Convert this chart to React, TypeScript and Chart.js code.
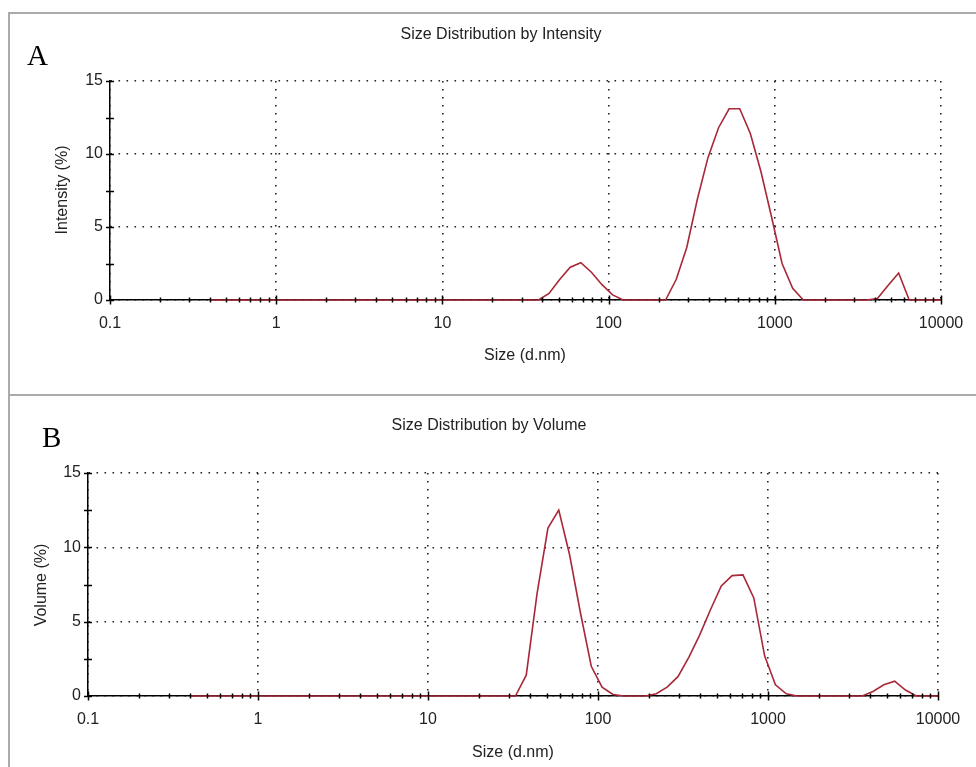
import React, { useEffect, useRef } from "react";
import { Chart, registerables } from "chart.js";

Chart.register(...registerables);

// Size bins (d.nm)
const sizes = [
  0.4, 0.4632, 0.5365, 0.6213, 0.7195, 0.8332, 0.9649, 1.117, 1.294, 1.499,
  1.736, 2.01, 2.328, 2.696, 3.122, 3.615, 4.187, 4.849, 5.615, 6.503,
  7.531, 8.721, 10.1, 11.7, 13.54, 15.69, 18.17, 21.04, 24.36, 28.21,
  32.67, 37.84, 43.82, 50.75, 58.77, 68.06, 78.82, 91.28, 105.7, 122.4,
  141.8, 164.2, 190.1, 220.2, 255.0, 295.3, 342.0, 396.1, 458.7, 531.2,
  615.1, 712.4, 825.0, 955.4, 1106, 1281, 1484, 1718, 1990, 2305,
  2669, 3091, 3580, 4145, 4801, 5560, 6439, 7456, 8635, 10000,
];

// Intensity (%)
const intensityValues = [
  0, 0, 0, 0, 0, 0, 0, 0, 0, 0,
  0, 0, 0, 0, 0, 0, 0, 0, 0, 0,
  0, 0, 0, 0, 0, 0, 0, 0, 0, 0,
  0, 0, 0.45, 1.4, 2.25, 2.55, 1.9, 1.05, 0.35, 0,
  0, 0, 0, 0, 1.4, 3.6, 6.9, 9.75, 11.8, 13.1,
  13.1, 11.4, 8.8, 5.7, 2.5, 0.8, 0, 0, 0, 0,
  0, 0, 0, 0.1, 1.0, 1.85, 0, 0, 0, 0,
];

// Volume (%)
const volumeValues = [
  0, 0, 0, 0, 0, 0, 0, 0, 0, 0,
  0, 0, 0, 0, 0, 0, 0, 0, 0, 0,
  0, 0, 0, 0, 0, 0, 0, 0, 0, 0,
  0, 1.4, 6.9, 11.3, 12.5, 9.5, 5.6, 2.0, 0.6, 0.1,
  0, 0, 0, 0.15, 0.6, 1.3, 2.6, 4.1, 5.8, 7.4,
  8.1, 8.15, 6.6, 2.7, 0.75, 0.15, 0, 0, 0, 0,
  0, 0, 0, 0.3, 0.75, 1.0, 0.4, 0, 0, 0,
];

const xTickDecades = [0.1, 1, 10, 100, 1000, 10000];
const xMinorMultipliers = [2, 3, 4, 5, 6, 7, 8, 9];
const yTickValues = [0, 5, 10, 15];
const yMinorTicks = [2.5, 7.5, 12.5];

const SANS = '"Liberation Sans", Arial, sans-serif';
const SERIF = '"Liberation Serif", "Times New Roman", serif';
const RED = "#a82838";
const TEXT = "#222";

type PanelProps = {
  top: number;
  width: number;
  height: number;
  area: { left: number; top: number; right: number; bottom: number };
  letter: string;
  letterX: number;
  letterY: number;
  title: string;
  titleX: number;
  titleY: number;
  xTitle: string;
  xTitleX: number;
  xTitleY: number;
  yTitle: string;
  yTitleX: number;
  yTitleY: number;
  values: number[];
};

function Panel(p: PanelProps) {
  const ref = useRef<HTMLCanvasElement | null>(null);

  useEffect(() => {
    const canvas = ref.current;
    if (!canvas) return;

    const overlay = {
      id: "overlay",
      afterDraw(chart: any) {
        const ctx = chart.ctx as CanvasRenderingContext2D;
        const xs = chart.scales.x;
        const ys = chart.scales.y;
        const { left, bottom } = chart.chartArea;
        ctx.save();
        ctx.strokeStyle = "#000";
        ctx.lineWidth = 1.5;
        ctx.beginPath();
        // x minor ticks
        for (let d = 0; d < xTickDecades.length - 1; d++) {
          for (const m of xMinorMultipliers) {
            const px = Math.round(xs.getPixelForValue(xTickDecades[d] * m)) + 0.5;
            ctx.moveTo(px, bottom - 2.5);
            ctx.lineTo(px, bottom + 2.5);
          }
        }
        // x major ticks
        for (const v of xTickDecades) {
          const px = Math.round(xs.getPixelForValue(v)) + 0.5;
          ctx.moveTo(px, bottom - 4.5);
          ctx.lineTo(px, bottom + 4.5);
        }
        // y ticks
        for (const v of [...yTickValues, ...yMinorTicks]) {
          const py = Math.round(ys.getPixelForValue(v)) + 0.5;
          ctx.moveTo(left - 4, py);
          ctx.lineTo(left + 4, py);
        }
        ctx.stroke();

        // texts
        ctx.fillStyle = TEXT;
        ctx.textBaseline = "alphabetic";
        ctx.font = `16px ${SANS}`;
        ctx.textAlign = "center";
        ctx.fillText(p.title, p.titleX, p.titleY);
        ctx.fillText(p.xTitle, p.xTitleX, p.xTitleY);
        ctx.save();
        ctx.translate(p.yTitleX, p.yTitleY);
        ctx.rotate(-Math.PI / 2);
        ctx.fillText(p.yTitle, 0, 0);
        ctx.restore();

        ctx.fillStyle = "#000";
        ctx.textAlign = "left";
        ctx.font = `29px ${SERIF}`;
        ctx.fillText(p.letter, p.letterX, p.letterY);
        ctx.restore();
      },
    };

    const gridCfg = { color: "#222", lineWidth: 1.6, drawTicks: false, tickLength: 0 };
    const borderCfg = { display: true, color: "#000", width: 1.5, dash: [1.6, 6.4] };

    const chart = new Chart(canvas, {
      type: "line",
      data: {
        datasets: [
          {
            data: sizes.map((s, i) => ({ x: s, y: p.values[i] })),
            borderColor: RED,
            borderWidth: 1.6,
            pointRadius: 0,
            tension: 0,
            fill: false,
            clip: false as any,
          },
        ],
      },
      options: {
        animation: false,
        responsive: false,
        maintainAspectRatio: false,
        devicePixelRatio: 1,
        events: [],
        layout: {
          padding: { left: 0, top: p.area.top, right: p.width - p.area.right, bottom: 0 },
        },
        plugins: {
          legend: { display: false },
          tooltip: { enabled: false },
          title: { display: false },
        },
        scales: {
          x: {
            type: "logarithmic",
            position: "bottom",
            min: 0.1,
            max: 10000,
            afterBuildTicks: (s: any) => {
              s.ticks = xTickDecades.map((v) => ({ value: v }));
            },
            afterFit: (s: any) => {
              s.height = p.height - p.area.bottom;
              s.paddingLeft = 0;
              s.paddingRight = 0;
            },
            ticks: {
              callback: (v: any) => String(v),
              font: { size: 16, family: SANS },
              color: TEXT,
              padding: 14,
              maxRotation: 0,
              autoSkip: false,
            },
            grid: gridCfg,
            border: borderCfg,
          },
          y: {
            type: "linear",
            min: 0,
            max: 15,
            afterBuildTicks: (s: any) => {
              s.ticks = yTickValues.map((v) => ({ value: v }));
            },
            afterFit: (s: any) => {
              s.width = p.area.left;
              s.paddingTop = 0;
              s.paddingBottom = 0;
            },
            ticks: {
              font: { size: 16, family: SANS },
              color: TEXT,
              padding: 7,
            },
            grid: gridCfg,
            border: borderCfg,
          },
        },
      } as any,
      plugins: [overlay],
    });

    return () => chart.destroy();
  }, []);

  return (
    <canvas
      ref={ref}
      width={p.width}
      height={p.height}
      style={{
        position: "absolute",
        left: 0,
        top: p.top,
        width: p.width,
        height: p.height,
        display: "block",
      }}
    />
  );
}

export default function App() {
  const W = 976;
  return (
    <div
      style={{
        position: "absolute",
        left: 0,
        top: 0,
        width: W,
        height: 767,
        background: "#fff",
        overflow: "hidden",
      }}
    >
      <Panel
        top={0}
        width={W}
        height={395}
        area={{ left: 110, top: 81, right: 941, bottom: 300 }}
        letter="A"
        letterX={27}
        letterY={65}
        title="Size Distribution by Intensity"
        titleX={501}
        titleY={39}
        xTitle="Size (d.nm)"
        xTitleX={525}
        xTitleY={360}
        yTitle="Intensity (%)"
        yTitleX={67}
        yTitleY={190}
        values={intensityValues}
      />
      <Panel
        top={395}
        width={W}
        height={372}
        area={{ left: 88, top: 78, right: 938, bottom: 301 }}
        letter="B"
        letterX={42}
        letterY={52}
        title="Size Distribution by Volume"
        titleX={489}
        titleY={35}
        xTitle="Size (d.nm)"
        xTitleX={513}
        xTitleY={362}
        yTitle="Volume (%)"
        yTitleX={46}
        yTitleY={190}
        values={volumeValues}
      />
      <div style={{ position: "absolute", left: 8, top: 12, width: W - 8, height: 2, background: "#aaa" }} />
      <div style={{ position: "absolute", left: 8, top: 12, width: 2, height: 767 - 12, background: "#aaa" }} />
      <div style={{ position: "absolute", left: 8, top: 394, width: W - 8, height: 2, background: "#aaa" }} />
    </div>
  );
}
